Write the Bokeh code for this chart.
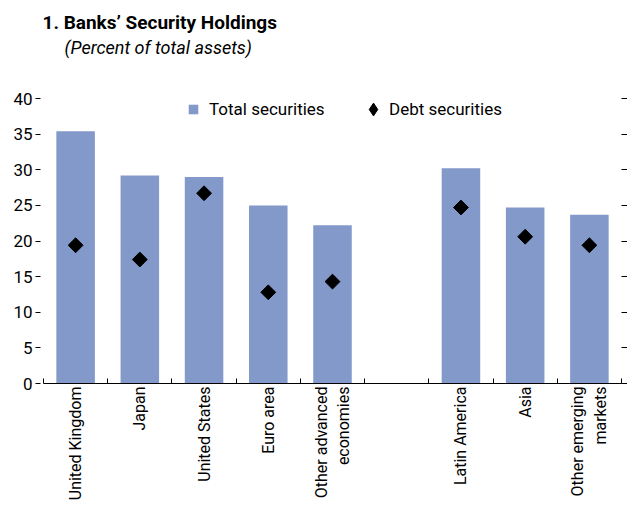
import math
from bokeh.plotting import figure
from bokeh.models import (Title, Legend, LegendItem, FixedTicker, LinearAxis,
                          CustomJSTickFormatter, Range1d)
from bokeh.embed import file_html
from bokeh.resources import INLINE

categories = ["United Kingdom", "Japan", "United States", "Euro area",
              "Other advanced\neconomies", "Latin America", "Asia",
              "Other emerging\nmarkets"]
total_securities = [35.4, 29.2, 29.0, 25.0, 22.2, 30.2, 24.7, 23.7]
debt_securities = [19.4, 17.4, 26.7, 12.8, 14.3, 24.7, 20.6, 19.4]
y_ticks = [0, 5, 10, 15, 20, 25, 30, 35, 40]
emerging_start = 5  # index where the emerging-market group begins (one empty slot before it)

FONT = "Roboto"
BAR = "#8399CA"

n_slots = len(categories) + 1
slots = [i + (1 if i >= emerging_start else 0) + 0.5 for i in range(len(categories))]

p = figure(width=627, height=503, x_range=Range1d(0, n_slots), y_range=Range1d(0, 40),
           output_backend="svg", toolbar_location=None,
           x_axis_location=None, y_axis_location=None,
           min_border_left=43, min_border_right=6, min_border_top=98, min_border_bottom=120)
p.outline_line_color = None
p.xgrid.visible = False
p.ygrid.visible = False
p.background_fill_color = "white"
p.border_fill_color = "white"

left = LinearAxis(ticker=FixedTicker(ticks=y_ticks, minor_ticks=[]),
                  major_tick_in=-3, major_tick_out=8, minor_tick_in=0, minor_tick_out=0,
                  axis_line_color=None, major_tick_line_color="black",
                  major_label_text_font=FONT, major_label_text_font_size="17px",
                  major_label_text_color="black", major_label_standoff=3)
p.add_layout(left, "left")

right = LinearAxis(ticker=FixedTicker(ticks=y_ticks, minor_ticks=[]),
                   major_tick_in=0, major_tick_out=6, minor_tick_in=0, minor_tick_out=0,
                   axis_line_color=None, major_tick_line_color="black",
                   formatter=CustomJSTickFormatter(code="return ''"),
                   major_label_standoff=0, major_label_text_font_size="1px")
p.add_layout(right, "right")

bottom = LinearAxis(ticker=FixedTicker(ticks=slots, minor_ticks=list(range(0, n_slots + 1))),
                    major_tick_in=0, major_tick_out=0, minor_tick_in=5, minor_tick_out=0,
                    minor_tick_line_color="black", axis_line_color="black",
                    major_label_orientation=math.pi / 2, major_label_standoff=3,
                    major_label_text_font=FONT, major_label_text_font_size="16px",
                    major_label_text_color="black",
                    formatter=CustomJSTickFormatter(args=dict(slots=slots, labels=categories), code="""
                        for (let i = 0; i < slots.length; i++) {
                            if (Math.abs(slots[i] - tick) < 1e-6) return labels[i];
                        }
                        return '';
                    """))
p.add_layout(bottom, "below")

r_bar = p.vbar(x=slots, top=total_securities, bottom=0, width=0.6,
               fill_color=BAR, line_color=None)
r_dot = p.scatter(x=slots, y=debt_securities, marker="square", size=10.5,
                  angle=math.pi / 4, fill_color="black", line_color="black")
# legend-only stand-in with an upright diamond glyph
r_key = p.scatter(x=slots, y=debt_securities, marker="diamond", size=12,
                  fill_color="black", line_color="black", visible=False)

legend1 = Legend(items=[LegendItem(label="Total securities", renderers=[r_bar])],
                 orientation="horizontal", location=(144, 264),
                 label_standoff=10, glyph_width=12, glyph_height=12,
                 padding=0, margin=0, background_fill_alpha=0, border_line_color=None,
                 label_text_font=FONT, label_text_font_size="17px", label_text_color="black")
legend2 = Legend(items=[LegendItem(label="Debt securities", renderers=[r_key])],
                 orientation="horizontal", location=(314, 258),
                 label_standoff=-6, glyph_width=32, glyph_height=32,
                 padding=0, margin=0, background_fill_alpha=0, border_line_color=None,
                 label_text_font=FONT, label_text_font_size="17px", label_text_color="black")
p.add_layout(legend1)
p.add_layout(legend2)

# blank spacer between the subtitle and the plot area
spacer = Title(text=" ", standoff=28, text_font=FONT, text_font_size="10px")
subtitle = Title(text="(Percent of total assets)", align="left", offset=21, standoff=0,
                 text_font=FONT, text_font_style="italic", text_font_size="18px",
                 text_color="black")
title = Title(text="1. Banks’ Security Holdings", align="left", offset=-1, standoff=1,
              text_font=FONT, text_font_style="bold", text_font_size="19px",
              text_color="black")
p.add_layout(spacer, "above")
p.add_layout(subtitle, "above")
p.add_layout(title, "above")

open("out.html", "w").write(file_html(p, INLINE))
